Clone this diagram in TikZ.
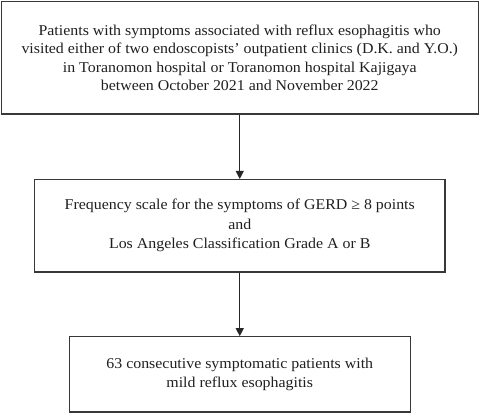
\documentclass[tikz,border=0pt]{standalone}
\usepackage{fontspec}
\setmainfont{Liberation Serif}[FakeStretch=1.06]
\usetikzlibrary{arrows.meta}
\begin{document}
\begin{tikzpicture}[x=1bp,y=-1bp,
  box/.style={draw=black!78, line width=1.1bp, rectangle, align=center, inner sep=0pt,
    font=\fontsize{15bp}{18.5bp}\selectfont, text=black!88},
  conn/.style={draw=black!85, line width=1.1bp, -{Triangle[width=8bp,length=8bp]}}]
\useasboundingbox (0,0) rectangle (480,413);
\node[box, minimum width=477bp, minimum height=112.5bp] (b1) at (239.75,57.75)
  {Patients with symptoms associated with reflux esophagitis who\\
   visited either of two endoscopists' outpatient clinics (D.K. and Y.O.)\\
   in Toranomon hospital or Toranomon hospital Kajigaya\\
   between October 2021 and November 2022};
\node[box, minimum width=410.5bp, minimum height=92.5bp] (b2) at (239.75,225.75)
  {Frequency scale for the symptoms of GERD ≥ 8 points\\[1bp]
   and\\[1bp]
   Los Angeles Classification Grade A or B};
\node[box, minimum width=341bp, minimum height=75.3bp] (b3) at (239.75,374.35)
  {63 consecutive symptomatic patients with\\[0.5bp]
   mild reflux esophagitis};
\draw[conn] (b1.south) -- (b2.north);
\draw[conn] (b2.south) -- (b3.north);
\end{tikzpicture}
\end{document}
